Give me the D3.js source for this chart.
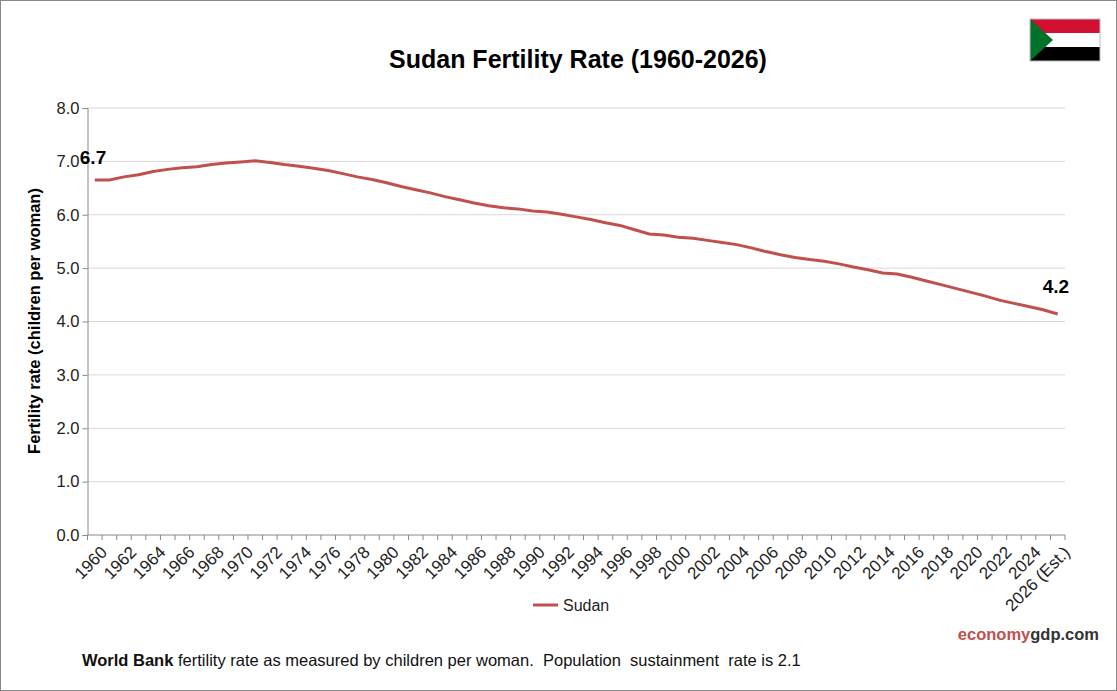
<!DOCTYPE html><html><head><meta charset="utf-8"><script src="https://cdn.jsdelivr.net/npm/d3@7"></script>
<style>body{margin:0;background:#fff}svg{font-family:Arial,"Liberation Sans",sans-serif}</style></head><body>
<svg id="c" width="1117" height="691"></svg>
<script>
const years=d3.range(1960,2027).map(String);
const labels=years.map(y=>y==="2026"?"2026 (Est.)":y);
const sudan=[6.65,6.65,6.71,6.75,6.81,6.85,6.88,6.90,6.94,6.97,6.99,7.01,6.98,6.94,6.91,6.87,6.83,6.77,6.71,6.66,6.60,6.53,6.47,6.41,6.34,6.28,6.22,6.17,6.13,6.11,6.07,6.05,6.01,5.96,5.91,5.85,5.80,5.72,5.64,5.62,5.58,5.56,5.52,5.48,5.44,5.38,5.31,5.25,5.20,5.16,5.13,5.08,5.02,4.97,4.91,4.89,4.83,4.76,4.69,4.62,4.55,4.48,4.40,4.34,4.28,4.22,4.14];
const yTicks=[0,1,2,3,4,5,6,7,8];
const svg=d3.select("#c");
svg.append("rect").attr("x",0.5).attr("y",0.5).attr("width",1116).attr("height",690).attr("fill","#fff").attr("stroke","#888");
const L=87.5,R=1065,T=108,B=535;
const x=d3.scaleBand().domain(years).range([L,R]);
const y=d3.scaleLinear().domain([0,8]).range([B,T]);
svg.append("g").selectAll("line").data(yTicks.slice(1)).join("line").attr("x1",L).attr("x2",R).attr("y1",d=>y(d)).attr("y2",d=>y(d)).attr("stroke","#d9d9d9");
const ya=svg.append("g").attr("transform",`translate(${L},0)`).call(d3.axisLeft(y).tickValues(yTicks).tickFormat(d3.format(".1f")).tickSize(5));
ya.select(".domain").attr("stroke","#888");ya.selectAll(".tick line").attr("stroke","#888");
ya.selectAll("text").attr("font-size",16.5).attr("fill","#222").attr("font-family","Arial,Liberation Sans");
const xa=svg.append("g").attr("transform",`translate(0,${B})`);
xa.append("line").attr("x1",L).attr("x2",R).attr("stroke","#888");
xa.selectAll("line.t").data(years.concat(["end"])).join("line").attr("class","t")
 .attr("x1",(d,i)=>L+i*x.step()).attr("x2",(d,i)=>L+i*x.step()).attr("y1",0).attr("y2",5).attr("stroke","#888");
xa.selectAll("text").data(years.filter((d,i)=>i%2===0||d==="2026")).join("text")
 .attr("transform",d=>`translate(${x(d)+x.bandwidth()/2+5},${10}) rotate(-45)`)
 .attr("text-anchor","end").attr("dy","0.7em").attr("font-size",17).attr("fill","#222")
 .text(d=>labels[years.indexOf(d)]);
const line=d3.line().x((d,i)=>x(years[i])+x.bandwidth()/2).y(d=>y(d));
svg.append("path").datum(sudan).attr("d",line).attr("fill","none").attr("stroke","#c0504d").attr("stroke-width",3);
svg.append("text").attr("x",x(years[0])+x.bandwidth()/2-15).attr("y",y(sudan[0])-16).attr("font-size",19).attr("font-weight","bold").text("6.7");
const ln=sudan.length-1;
svg.append("text").attr("x",x(years[ln])+x.bandwidth()/2-15).attr("y",y(sudan[ln])-21).attr("font-size",19).attr("font-weight","bold").text("4.2");
svg.append("text").attr("x",578).attr("y",68).attr("text-anchor","middle").attr("font-size",25).attr("font-weight","bold").text("Sudan Fertility Rate (1960-2026)");
svg.append("text").attr("transform","translate(40,321) rotate(-90)").attr("text-anchor","middle").attr("font-size",16.5).attr("font-weight","bold").text("Fertility rate (children per woman)");
svg.append("line").attr("x1",533).attr("x2",558).attr("y1",605).attr("y2",605).attr("stroke","#c0504d").attr("stroke-width",3);
svg.append("text").attr("x",563).attr("y",611).attr("font-size",16).attr("fill","#222").text("Sudan");
const w=svg.append("text").attr("x",1099).attr("y",640).attr("text-anchor","end").attr("font-size",16.5).attr("font-weight","bold");
w.append("tspan").attr("fill","#c0504d").text("economy");w.append("tspan").attr("fill","#333").text("gdp.com");
const f=svg.append("text").attr("x",82).attr("y",666).attr("font-size",16.5).attr("fill","#111");
f.append("tspan").attr("font-weight","bold").text("World Bank");
f.append("tspan").attr("xml:space","preserve").text(" fertility rate as measured by children per woman.  Population  sustainment  rate is 2.1");
const fl=svg.append("g").attr("transform","translate(1030,19)");
fl.append("rect").attr("width",70).attr("height",14).attr("fill","#d21034");
fl.append("rect").attr("y",14).attr("width",70).attr("height",14).attr("fill","#fff");
fl.append("rect").attr("y",28).attr("width",70).attr("height",14).attr("fill","#000");
fl.append("path").attr("d","M0,0L23,21L0,42Z").attr("fill","#007229");
fl.append("rect").attr("width",70).attr("height",42).attr("fill","none").attr("stroke","#bbb");
</script></body></html>
